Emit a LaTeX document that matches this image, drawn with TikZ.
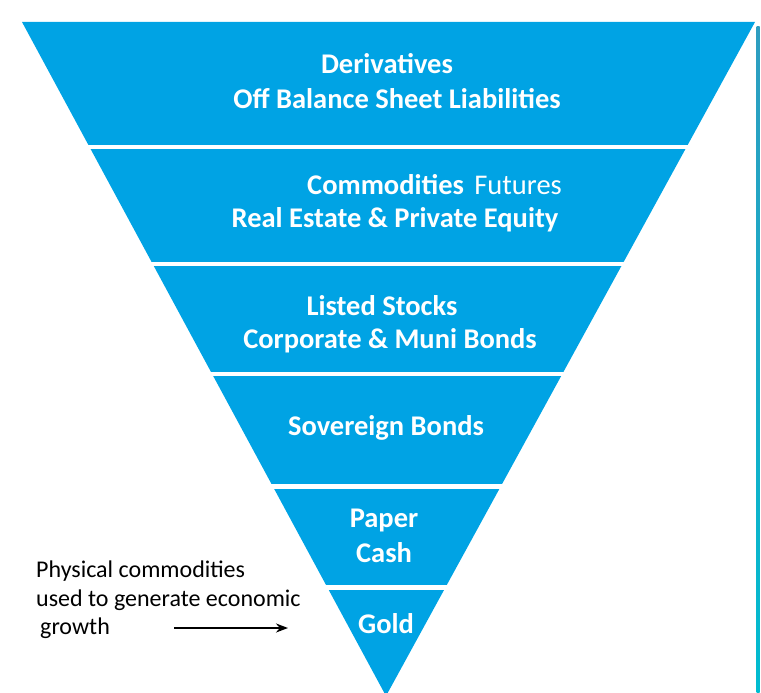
\documentclass[tikz,border=0pt]{standalone}
\usepackage{fontspec}
\setmainfont{Carlito}
\usetikzlibrary{arrows.meta}
\definecolor{funnelblue}{RGB}{0,163,228}
\definecolor{linetop}{RGB}{46,157,192}
\definecolor{linebot}{RGB}{0,188,208}
\tikzset{
  bandtxt/.style={text=white,font=\fontsize{28.5}{32}\selectfont\bfseries,inner sep=0pt,anchor=center},
  futtxt/.style={text=white,font=\fontsize{28.5}{32}\selectfont,inner sep=0pt},
  sidetxt/.style={text=black,font=\fontsize{24}{28}\selectfont,inner sep=0pt,anchor=west},
  gap/.style={fill=white,draw=none}
}
\begin{document}
\begin{tikzpicture}[x=1pt,y=-1pt]
\useasboundingbox (0,0) rectangle (761,693);
% funnel
\fill[funnelblue] (22,22) -- (755,22) -- (386,696) -- cycle;
% white gaps between bands
\fill[gap] (0,144.5) rectangle (740,149);
\fill[gap] (0,262) rectangle (740,266);
\fill[gap] (0,371.5) rectangle (740,376);
\fill[gap] (0,484) rectangle (740,488.5);
\fill[gap] (0,584.5) rectangle (740,589.5);
% right vertical line
\shade[top color=linetop,bottom color=linebot] (756.5,27) rectangle (759.5,693);
% band texts
\node[bandtxt] (d1) at (387,64) {Derivatives};
\node[bandtxt] (d2) at (397,99) {Off Balance Sheet Liabilities};
\node[bandtxt,anchor=base west] (c1) at (307,194) {Commodities};
\node[futtxt,anchor=base west] (c1b) at ([xshift=10pt]c1.base east) {Futures};
\node[bandtxt] (c2) at (395,220) {Real Estate \& Private Equity};
\node[bandtxt] (s1) at (382,306) {Listed Stocks};
\node[bandtxt] (s2) at (390,341) {Corporate \& Muni Bonds};
\node[bandtxt] (sb) at (386,428) {Sovereign Bonds};
\node[bandtxt] (p1) at (384,520) {Paper};
\node[bandtxt] (p2) at (384,553) {Cash};
\node[bandtxt] (g) at (386,624) {Gold};
% side note
\node[sidetxt] (n1) at (36,571) {Physical commodities};
\node[sidetxt] (n2) at (36,600) {used to generate economic};
\node[sidetxt] (n3) at (40,628) {growth};
\coordinate (astart) at (174,628);
\coordinate (aend) at (288,628);
\draw[line width=2.6pt,-{Stealth[length=12pt,width=9pt]}] (astart) -- (aend);
\end{tikzpicture}
\end{document}
